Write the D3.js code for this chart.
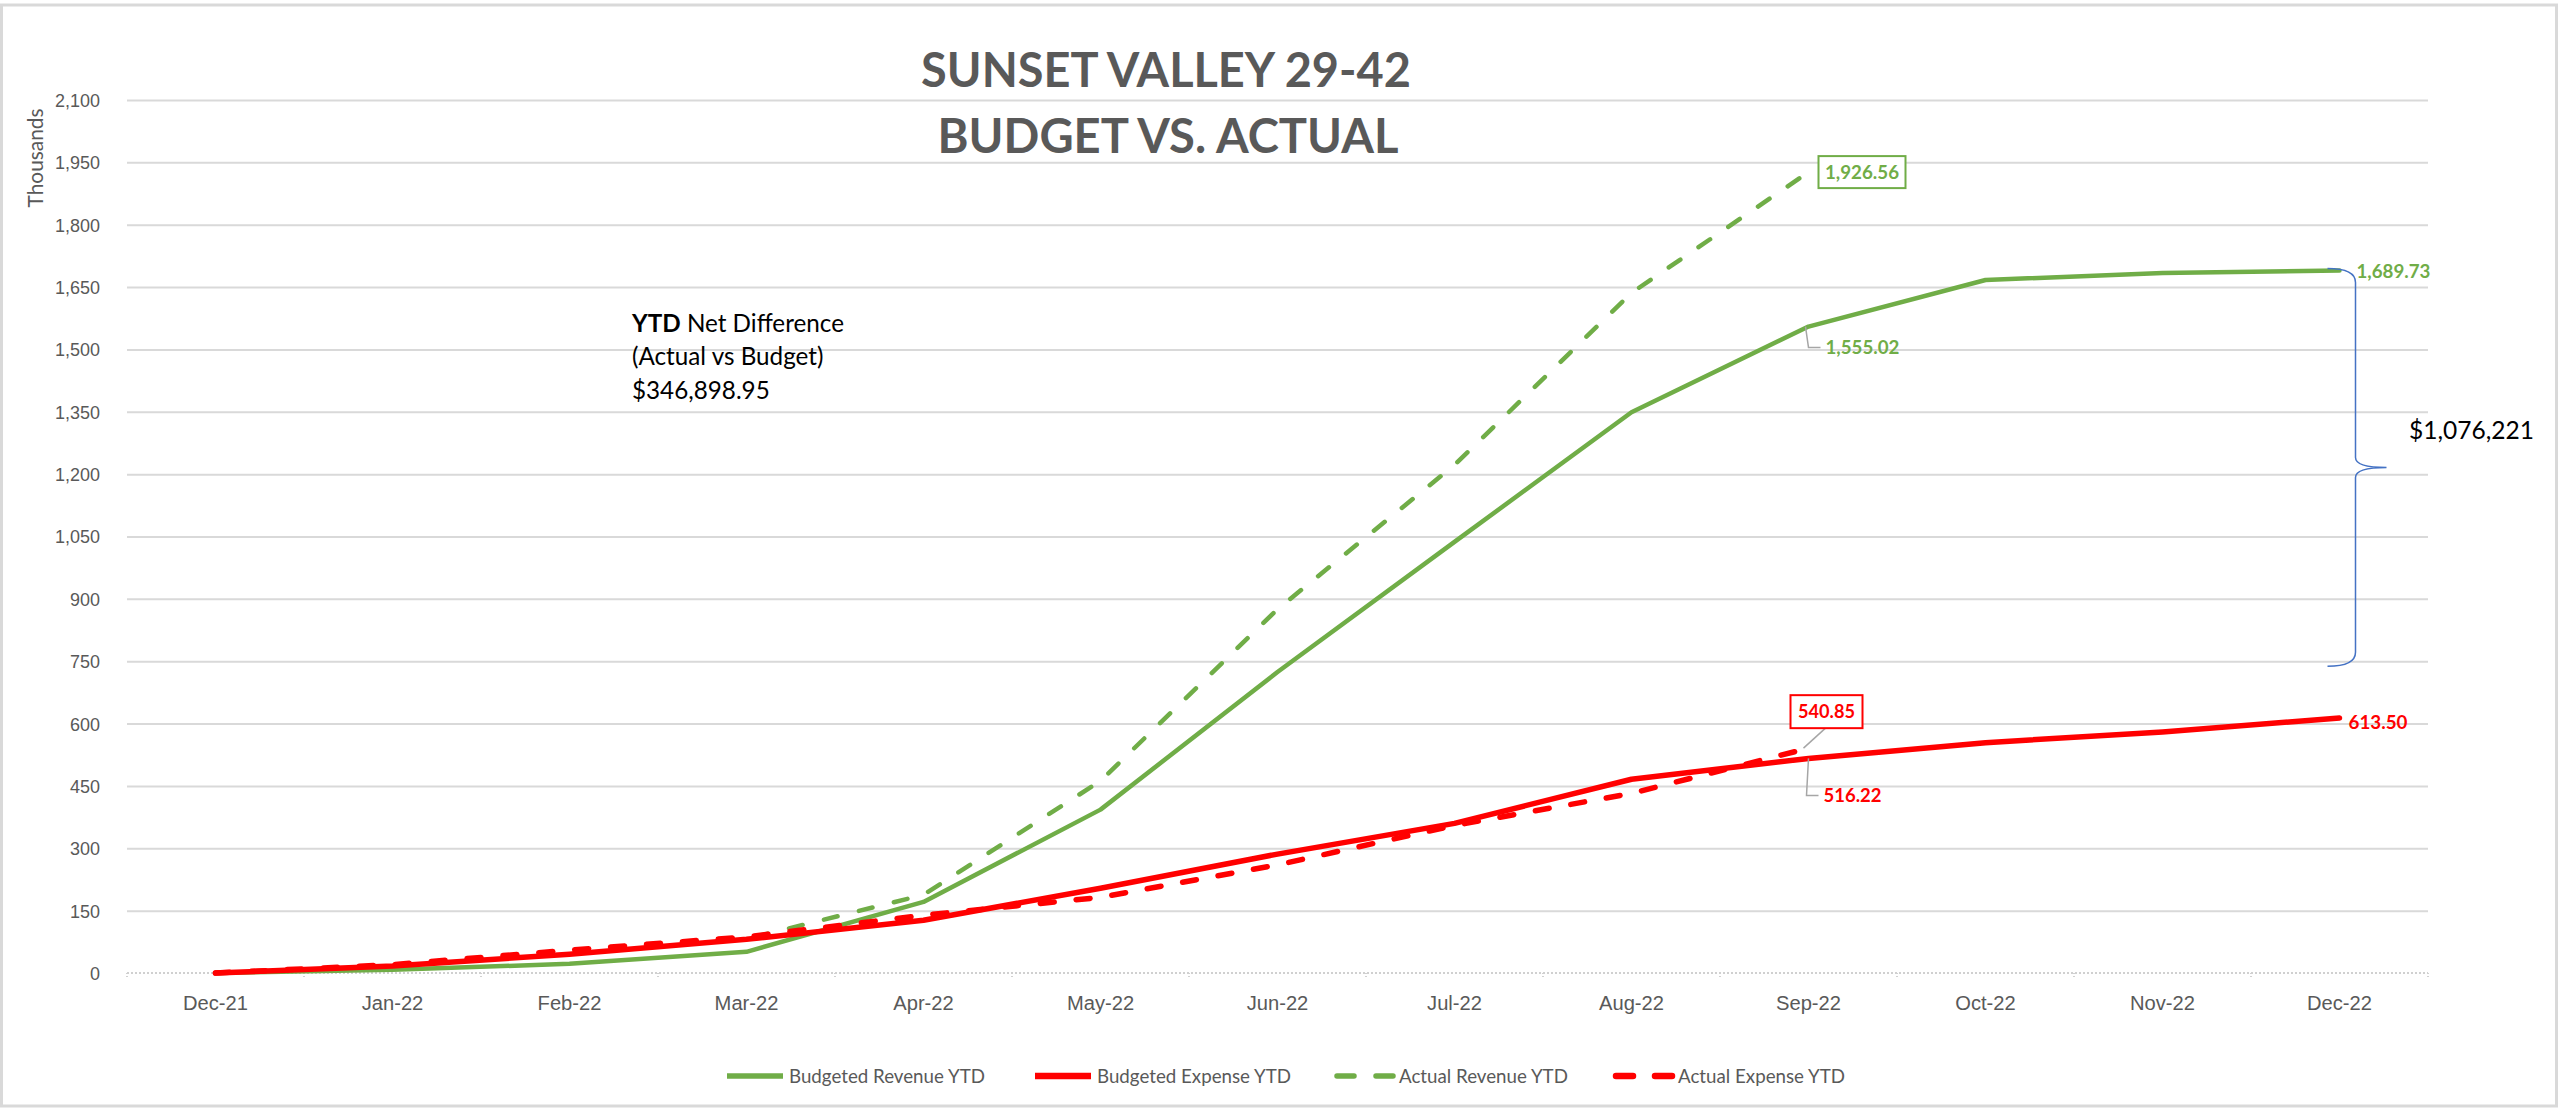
<!DOCTYPE html>
<html>
<head>
<meta charset="utf-8">
<script src="https://d3js.org/d3.v7.min.js"></script>
<style>
    body { margin: 0; background: #fff; }
    svg { display: block; font-family: Lato, "Open Sans", sans-serif; }
    .line { fill: none; }
    .lbl { font-weight: bold; }
    .leader { fill: none; stroke: #a6a6a6; stroke-width: 1.5; }
</style>
</head>
<body>
<svg id="chart"></svg>
<script>
    let months = ['Dec-21', 'Jan-22', 'Feb-22', 'Mar-22', 'Apr-22', 'May-22', 'Jun-22',
                  'Jul-22', 'Aug-22', 'Sep-22', 'Oct-22', 'Nov-22', 'Dec-22'];
    let budgetRevenue = [0, 8, 22, 51, 171, 393, 724, 1037, 1349, 1555.02, 1667, 1684, 1689.73];
    let budgetExpense = [0, 17, 45, 81, 127, 204, 286, 360, 466, 516.22, 554, 580, 613.50];
    let actualRevenue = [0, 18, 48, 82, 188, 462, 875, 1222, 1636, 1926.56];
    let actualExpense = [0, 20, 55, 87, 139, 182, 260, 355, 432, 540.85];
    let yTicks = [0, 150, 300, 450, 600, 750, 900, 1050, 1200, 1350, 1500, 1650, 1800, 1950, 2100];
    let seriesNames = ['Budgeted Revenue YTD', 'Budgeted Expense YTD', 'Actual Revenue YTD', 'Actual Expense YTD'];
    let braceRange = [1689.73, 738];
    let netDifference = '$346,898.95';
    let braceText = '$1,076,221';

    const GREEN = '#70ad47', RED = '#ff0000', GREY = '#595959';
    let width = 2560, height = 1109;
    let plot = { left: 127, right: 2428, top: 100, bottom: 973 };

    // scale a text's font size so it spans the given width
    function fit(sel, target) {
        let node = sel.node();
        let fs = parseFloat(getComputedStyle(node).fontSize);
        let w = node.getComputedTextLength();
        let nfs = fs * target / w;
        sel.attr('font-size', nfs);
        return nfs;
    }

    let svg = d3.select('#chart').attr('width', width).attr('height', height);

    // chart border
    svg.append('rect')
        .attr('x', 1.5).attr('y', 5).attr('width', 2555).attr('height', 1101)
        .attr('fill', '#fff').attr('stroke', '#d9d9d9').attr('stroke-width', 3);

    let x = d3.scaleBand().domain(months).range([plot.left, plot.right]);
    let y = d3.scaleLinear().domain([0, 2100]).range([plot.bottom, plot.top]);
    let cx = m => x(m) + x.bandwidth() / 2;

    // y axis + gridlines
    let yAxis = d3.axisLeft(y)
        .tickValues(yTicks)
        .tickFormat(d3.format(','))
        .tickSize(-(plot.right - plot.left))
        .tickPadding(27);
    let yg = svg.append('g')
        .attr('transform', `translate(${plot.left},0)`)
        .call(yAxis);
    yg.select('.domain').remove();
    yg.selectAll('line').attr('stroke', '#d9d9d9').attr('stroke-width', 2)
        .filter(d => d === 0).remove();
    yg.selectAll('text').attr('dy', '0.36em').attr('fill', GREY).attr('font-size', 17);
    let yfs = fit(yg.selectAll('text').filter(d => d === 2100), 45);
    yg.selectAll('text').attr('font-size', yfs);

    // x axis (dotted baseline, boundary ticks)
    svg.append('line')
        .attr('x1', plot.left).attr('x2', plot.right)
        .attr('y1', y(0)).attr('y2', y(0))
        .attr('stroke', '#d0d0d0').attr('stroke-width', 2).attr('stroke-dasharray', '2,2');
    svg.append('g').selectAll('line')
        .data(months.concat(['end']))
        .enter().append('line')
        .attr('x1', d => d === 'end' ? plot.right : x(d))
        .attr('x2', d => d === 'end' ? plot.right : x(d))
        .attr('y1', y(0)).attr('y2', y(0) + 5)
        .attr('stroke', '#d0d0d0').attr('stroke-width', 2).attr('stroke-dasharray', '1,2');

    let xAxis = d3.axisBottom(x).tickSize(0).tickPadding(23);
    let xg = svg.append('g')
        .attr('transform', `translate(0,${y(0)})`)
        .call(xAxis);
    xg.select('.domain').remove();
    xg.selectAll('text').attr('fill', GREY).attr('font-size', 20).attr('dy', '0.36em')
        .attr('y', 30);
    let xfs = fit(xg.selectAll('text').filter(d => d === 'Dec-21'), 65);
    xg.selectAll('text').attr('font-size', xfs);

    // series lines
    let lineGen = d3.line().x((d, i) => cx(months[i])).y(d => y(d));
    let series = [
        { data: budgetRevenue, color: GREEN, w: 4.5, dash: null },
        { data: budgetExpense, color: RED, w: 5.5, dash: null },
        { data: actualRevenue, color: GREEN, w: 4.5, dash: '14,22' },
        { data: actualExpense, color: RED, w: 5.5, dash: '14,22' }
    ];
    let drawOrder = [0, 2, 1, 3];
    drawOrder.forEach(k => {
        let s = series[k];
        svg.append('path')
            .datum(s.data)
            .attr('class', 'line')
            .attr('d', lineGen)
            .attr('stroke', s.color)
            .attr('stroke-width', s.w)
            .attr('stroke-linecap', 'round')
            .attr('stroke-linejoin', 'round')
            .attr('stroke-dasharray', s.dash);
    });

    // data labels
    let sep = cx('Sep-22'), dec = cx('Dec-22');
    let arEnd = actualRevenue[actualRevenue.length - 1];
    let aeEnd = actualExpense[actualExpense.length - 1];
    let brSep = budgetRevenue[9], beSep = budgetExpense[9];
    let brDec = budgetRevenue[12], beDec = budgetExpense[12];
    let fmt = d3.format(',.2f');

    function label(txt, color, lx, ly, anchor, target) {
        let t = svg.append('text').attr('class', 'lbl').attr('fill', color)
            .attr('x', lx).attr('y', ly).attr('dy', '0.36em')
            .attr('text-anchor', anchor).attr('font-size', 18).text(txt);
        fit(t, target);
        return t;
    }

    // 1,926.56 boxed
    svg.append('rect')
        .attr('x', sep + 10).attr('y', y(arEnd) - 16).attr('width', 87).attr('height', 32)
        .attr('fill', '#fff').attr('stroke', GREEN).attr('stroke-width', 2);
    label(fmt(arEnd), GREEN, sep + 53.5, y(arEnd), 'middle', 74);

    // 1,555.02 with leader
    svg.append('path').attr('class', 'leader')
        .attr('d', `M${sep - 3},${y(brSep)} L${sep},${y(brSep) + 21} L${sep + 12},${y(brSep) + 21}`);
    label(fmt(brSep), GREEN, sep + 17, y(brSep) + 21, 'start', 74);

    // 1,689.73
    label(fmt(brDec), GREEN, dec + 17, y(brDec) + 1, 'start', 74);

    // 540.85 boxed with leader
    let aeY = y(aeEnd);
    svg.append('path').attr('class', 'leader')
        .attr('d', `M${sep - 5},${aeY} L${sep + 17},${aeY - 20}`);
    svg.append('rect')
        .attr('x', sep - 18).attr('y', aeY - 53).attr('width', 72).attr('height', 33)
        .attr('fill', '#fff').attr('stroke', RED).attr('stroke-width', 2);
    label(fmt(aeEnd), RED, sep + 18, aeY - 36.5, 'middle', 57);

    // 516.22 with leader
    svg.append('path').attr('class', 'leader')
        .attr('d', `M${sep},${y(beSep)} L${sep - 2},${y(beSep) + 37} L${sep + 10},${y(beSep) + 37}`);
    label(fmt(beSep), RED, sep + 15, y(beSep) + 37, 'start', 58);

    // 613.50
    label(fmt(beDec), RED, dec + 9, y(beDec) + 4, 'start', 59);

    // brace
    let bTop = y(braceRange[0]) - 2, bBot = y(braceRange[1]);
    let bMid = (bTop + bBot) / 2;
    let xl = dec - 12, xv = dec + 16, xt = dec + 47;
    svg.append('path')
        .attr('d', `M${xl},${bTop} Q${xv},${bTop} ${xv},${bTop + 14} L${xv},${bMid - 10} ` +
                   `Q${xv},${bMid} ${xt},${bMid} Q${xv},${bMid} ${xv},${bMid + 10} ` +
                   `L${xv},${bBot - 14} Q${xv},${bBot} ${xl},${bBot}`)
        .attr('fill', 'none').attr('stroke', '#4472c4').attr('stroke-width', 1.5);
    let bt = svg.append('text')
        .attr('x', 2409).attr('y', 430).attr('dy', '0.36em')
        .attr('font-size', 24).attr('fill', '#000')
        .text(braceText);
    fit(bt, 125);

    // title
    let title = svg.append('g').attr('fill', GREY).attr('font-weight', 'bold')
        .attr('text-anchor', 'middle');
    let tl1 = title.append('text').attr('x', 1166).attr('y', 87).attr('font-size', 47).text('SUNSET VALLEY 29-42');
    fit(tl1, 490);
    let tl2 = title.append('text').attr('x', 1168).attr('y', 153).attr('font-size', 47).text('BUDGET VS. ACTUAL');
    fit(tl2, 461);

    // axis title
    let yt = svg.append('text')
        .attr('transform', 'translate(43,158) rotate(-90)')
        .attr('text-anchor', 'middle').attr('font-size', 20).attr('fill', GREY)
        .text('Thousands');
    fit(yt, 99);

    // net difference text box
    let note = svg.append('g').attr('fill', '#000');
    let t1 = note.append('text').attr('x', 632).attr('y', 332).attr('font-size', 20);
    t1.append('tspan').attr('font-weight', 'bold').text('YTD');
    t1.append('tspan').text(' Net Difference');
    let nfs = fit(t1, 212);
    note.append('text').attr('x', 632).attr('y', 365).attr('font-size', nfs).text('(Actual vs Budget)');
    note.append('text').attr('x', 632).attr('y', 399).attr('font-size', nfs).text(netDifference);

    // legend
    let legendX = [724, 1032, 1334, 1613];
    let legendY = 1076;
    let lg = svg.append('g');
    let legTexts = [];
    seriesNames.forEach((name, i) => {
        let s = series[i];
        lg.append('line')
            .attr('x1', legendX[i] + 3).attr('x2', legendX[i] + 59)
            .attr('y1', legendY).attr('y2', legendY)
            .attr('stroke', s.color).attr('stroke-width', s.w + 1)
            .attr('stroke-linecap', s.dash ? 'round' : 'butt')
            .attr('stroke-dasharray', s.dash ? '17,22' : null);
        legTexts.push(lg.append('text')
            .attr('x', legendX[i] + 65).attr('y', legendY).attr('dy', '0.36em')
            .attr('font-size', 18).attr('fill', GREY)
            .text(name));
    });
    let lfs = fit(legTexts[0], 196);
    legTexts.forEach(t => t.attr('font-size', lfs));
</script>
</body>
</html>
